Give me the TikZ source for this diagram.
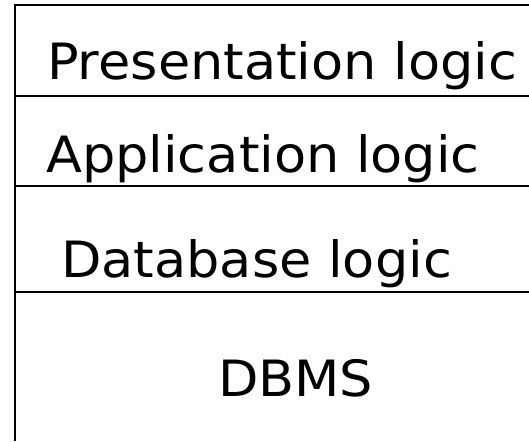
\documentclass[tikz,border=0pt]{standalone}
\usepackage{fontspec}
\setmainfont[FakeStretch=1.05]{DejaVu Sans}
\begin{document}
\begin{tikzpicture}[x=1pt,y=-1pt,
  rule/.style={line width=1.5pt},
  layer/.style={anchor=base west, inner sep=0pt, font=\fontsize{50}{60}\selectfont}]
\useasboundingbox (0,0) rectangle (529,441);
% frame corner and layer separators
\coordinate (tl) at (15,5);
\coordinate (tr) at (529,5);
\coordinate (bl) at (15,441);
\draw[rule] (tr) -- (tl) -- (bl);
\coordinate (s1l) at (15,96);  \coordinate (s1r) at (529,96);
\coordinate (s2l) at (15,186); \coordinate (s2r) at (529,186);
\coordinate (s3l) at (15,292); \coordinate (s3r) at (529,292);
\draw[rule] (s1l) -- (s1r);
\draw[rule] (s2l) -- (s2r);
\draw[rule] (s3l) -- (s3r);
% layer names
\node[layer] (pres) at (47,80) {Presentation logic};
\node[layer] (app) at (46,172) {Application logic};
\node[layer] (db) at (61,277) {Database logic};
\node[layer] (dbms) at (218,396) {DBMS};
\end{tikzpicture}
\end{document}
